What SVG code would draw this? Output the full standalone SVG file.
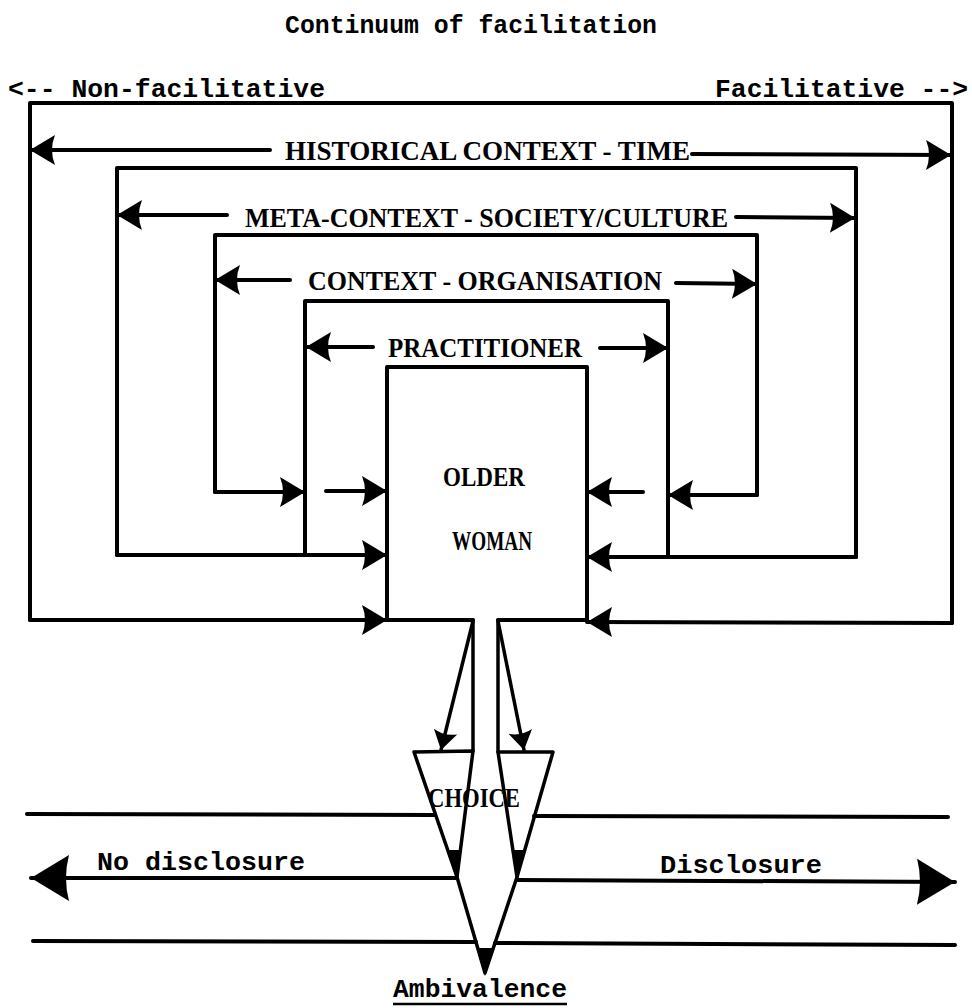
<svg xmlns="http://www.w3.org/2000/svg" width="972" height="1008" viewBox="0 0 972 1008">
<style>
.ln{fill:none;stroke:#000;stroke-width:4;stroke-linecap:round;stroke-linejoin:round}
.fn{fill:none;stroke:#000;stroke-width:3.5;stroke-linecap:round;stroke-linejoin:round}
.mono{font-family:"Liberation Mono","DejaVu Sans Mono",monospace;font-weight:bold;font-size:26px;fill:#000}
.serif{font-family:"Liberation Serif","DejaVu Serif",serif;font-weight:bold;font-size:27px;fill:#000}
.tip{fill:#000;stroke:none}
</style>
<defs>
<marker id="ah" viewBox="-28 -17 30 34" refX="0" refY="0" markerWidth="30" markerHeight="34" orient="auto" markerUnits="userSpaceOnUse">
<path d="M0,0 L-25,-15 Q-19,0 -25,15 Z" fill="#000"/>
</marker>
<marker id="ahL" viewBox="-42 -25 44 50" refX="0" refY="0" markerWidth="44" markerHeight="50" orient="auto" markerUnits="userSpaceOnUse">
<path d="M0,0 L-38,-23 Q-32,0 -38,23 Z" fill="#000"/>
</marker>
<marker id="ahS" viewBox="-22 -14 24 28" refX="0" refY="0" markerWidth="24" markerHeight="28" orient="auto" markerUnits="userSpaceOnUse">
<path d="M0,0 L-19,-12 Q-14,0 -19,12 Z" fill="#000"/>
</marker>
</defs>

<g id="title">
<text class="mono" x="285" y="33" textLength="372" lengthAdjust="spacingAndGlyphs">Continuum of facilitation</text>
</g>
<g id="non-facilitative">
<text class="mono" x="8" y="97" textLength="317" lengthAdjust="spacingAndGlyphs">&lt;-- Non-facilitative</text>
</g>
<g id="facilitative">
<text class="mono" x="715" y="97" textLength="253" lengthAdjust="spacingAndGlyphs">Facilitative --&gt;</text>
</g>

<g id="historical-context">
<path class="ln" d="M30,620 L30,103 L952,103 L952,623"/>
<text class="serif" x="285" y="160" textLength="405" lengthAdjust="spacingAndGlyphs">HISTORICAL CONTEXT - TIME</text>
</g>
<g id="meta-context">
<path class="ln" d="M117,555 L117,168 L856,168 L856,557"/>
<text class="serif" x="245" y="227" textLength="483" lengthAdjust="spacingAndGlyphs">META-CONTEXT - SOCIETY/CULTURE</text>
</g>
<g id="context">
<path class="ln" d="M215,492 L215,235 L757,235 L757,495"/>
<text class="serif" x="308" y="290" textLength="354" lengthAdjust="spacingAndGlyphs">CONTEXT - ORGANISATION</text>
</g>
<g id="practitioner">
<path class="ln" d="M305,555 L305,301 L668,301 L668,557"/>
<text class="serif" x="388" y="357" textLength="194" lengthAdjust="spacingAndGlyphs">PRACTITIONER</text>
</g>
<g id="older-woman">
<path class="ln" d="M473,620 L387,620 L387,367 L587,367 L587,620 L498,620"/>
<text class="serif" x="443" y="486" textLength="82" lengthAdjust="spacingAndGlyphs">OLDER</text>
<text class="serif" x="452" y="550" textLength="80" lengthAdjust="spacingAndGlyphs">WOMAN</text>
</g>

<g id="connectors">
<line class="ln" x1="270" y1="150" x2="30" y2="150" marker-end="url(#ah)"/>
<line class="ln" x1="692" y1="154" x2="951" y2="155" marker-end="url(#ah)"/>
<line class="ln" x1="227" y1="215" x2="117" y2="215" marker-end="url(#ah)"/>
<line class="ln" x1="736" y1="217" x2="855" y2="218" marker-end="url(#ah)"/>
<line class="ln" x1="290" y1="280" x2="215" y2="280" marker-end="url(#ah)"/>
<line class="ln" x1="676" y1="283" x2="757" y2="284" marker-end="url(#ah)"/>
<line class="ln" x1="373" y1="347" x2="306" y2="347" marker-end="url(#ah)"/>
<line class="ln" x1="600" y1="348" x2="668" y2="348" marker-end="url(#ah)"/>
<line class="ln" x1="215" y1="492" x2="305" y2="492" marker-end="url(#ah)"/>
<line class="ln" x1="326" y1="491" x2="387" y2="491" marker-end="url(#ah)"/>
<line class="ln" x1="643" y1="492" x2="587" y2="492" marker-end="url(#ah)"/>
<line class="ln" x1="757" y1="495" x2="668" y2="495" marker-end="url(#ah)"/>
<line class="ln" x1="117" y1="555" x2="387" y2="555" marker-end="url(#ah)"/>
<line class="ln" x1="856" y1="557" x2="587" y2="557" marker-end="url(#ah)"/>
<line class="ln" x1="30" y1="620" x2="387" y2="620" marker-end="url(#ah)"/>
<line class="ln" x1="952" y1="623" x2="587" y2="622" marker-end="url(#ah)"/>

<line class="fn" x1="473" y1="620" x2="473" y2="751"/>
<line class="fn" x1="473" y1="621" x2="441" y2="750" marker-end="url(#ahS)"/>
<line class="fn" x1="498" y1="620" x2="498" y2="752"/>
<line class="fn" x1="498" y1="621" x2="524" y2="750" marker-end="url(#ahS)"/>

<path class="fn" d="M414,752 L473,751 L457,877 Z"/>
<polygon class="tip" points="448,850 461,850 457,878"/>
<path class="fn" d="M498,752 L553,752 L517,877 Z"/>
<polygon class="tip" points="512,850 525,850 517,878"/>
<path class="fn" d="M457,877 L485,973 L517,877"/>
<polygon class="tip" points="477,948 494,948 485,976"/>

<line class="ln" x1="27" y1="814" x2="435" y2="815"/>
<line class="ln" x1="534" y1="816" x2="948" y2="817"/>
<line class="ln" x1="456" y1="878" x2="31" y2="878" marker-end="url(#ahL)"/>
<line class="ln" x1="517" y1="880" x2="955" y2="882" marker-end="url(#ahL)"/>
<line class="ln" x1="33" y1="941" x2="476" y2="942"/>
<line class="ln" x1="495" y1="943" x2="955" y2="945"/>
</g>

<g id="choice">
<text class="serif" x="428" y="807" textLength="92" lengthAdjust="spacingAndGlyphs">CHOICE</text>
</g>
<g id="no-disclosure">
<text class="mono" x="97" y="870" textLength="208" lengthAdjust="spacingAndGlyphs">No disclosure</text>
</g>
<g id="disclosure">
<text class="mono" x="660" y="873" textLength="162" lengthAdjust="spacingAndGlyphs">Disclosure</text>
</g>
<g id="ambivalence">
<text class="mono" x="393" y="997" textLength="174" lengthAdjust="spacingAndGlyphs">Ambivalence</text>
<line x1="393" y1="1004" x2="567" y2="1004" stroke="#000" stroke-width="2.5"/>
</g>
</svg>
